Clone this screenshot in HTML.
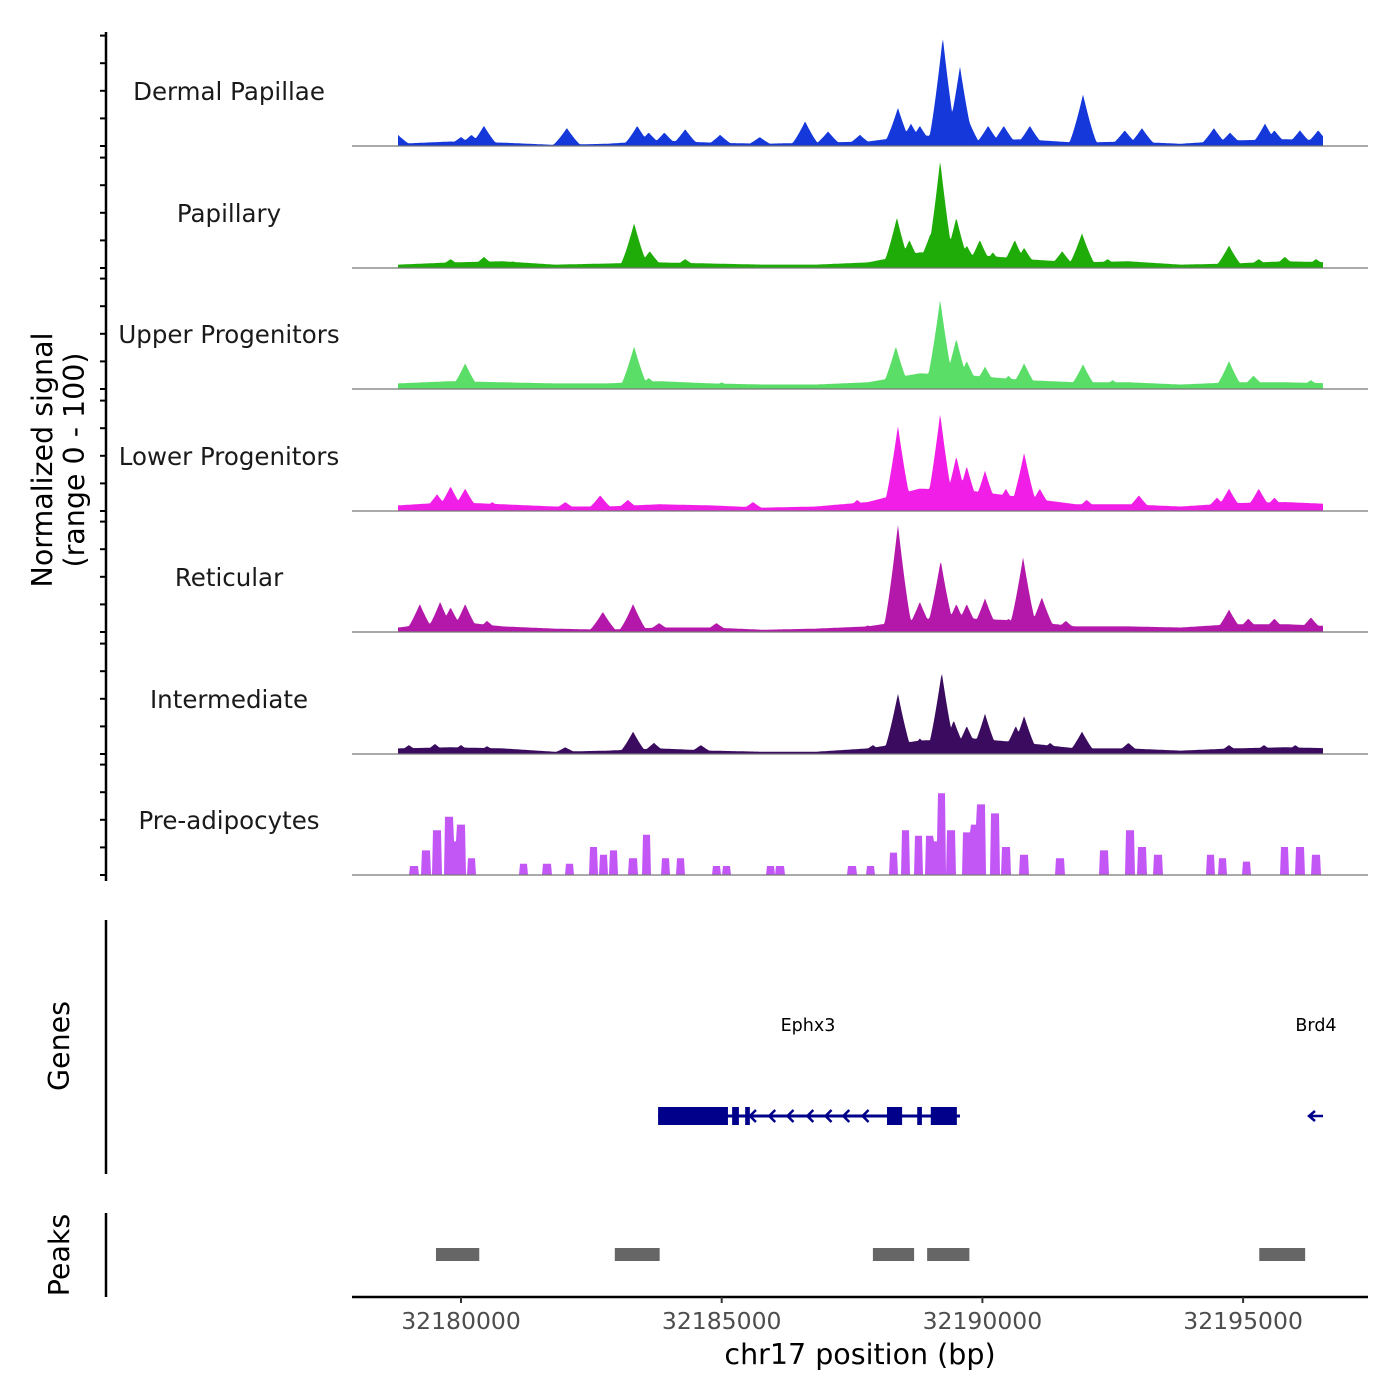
<!DOCTYPE html>
<html><head><meta charset="utf-8"><style>
html,body{margin:0;padding:0;background:#fff;}
svg{display:block;font-family:"DejaVu Sans","Liberation Sans",sans-serif;}
</style></head><body>
<svg id="chart" width="1400" height="1400" viewBox="0 0 1400 1400" xmlns="http://www.w3.org/2000/svg">
<g id="tracks"></g>
<g id="yaxis"></g>
<text transform="translate(52,460) rotate(-90)" text-anchor="middle" font-size="28.5" fill="#000">Normalized signal</text>
<text transform="translate(84,460) rotate(-90)" text-anchor="middle" font-size="28.5" fill="#000">(range 0 - 100)</text>
<line x1="106" y1="920" x2="106" y2="1174" stroke="#000" stroke-width="2.5"/>
<text transform="translate(69,1046) rotate(-90)" text-anchor="middle" font-size="28.5">Genes</text>
<line x1="106" y1="1213" x2="106" y2="1297" stroke="#000" stroke-width="2.5"/>
<text transform="translate(69,1255) rotate(-90)" text-anchor="middle" font-size="28.5">Peaks</text>
<g id="genes"></g>
<g id="peaks"></g>
<g id="xaxis"></g>
<text x="860" y="1364" text-anchor="middle" font-size="28.5">chr17 position (bp)</text>
</svg>
<script>
// ---- data (positions in kb offset from 32,180,000; heights 0-100) ----
const trackNames = ["Dermal Papillae","Papillary","Upper Progenitors","Lower Progenitors","Reticular","Intermediate","Pre-adipocytes"];
const trackColors = ["#1438da","#1fac09","#5ade68","#f01ee6","#b418aa","#3a0b5e","#c257f5"];
// background levels at kb -1.2 .. 16.8 (every 1 kb)
const bgKb = [-1.2,-0.2,0.8,1.8,2.8,3.8,4.8,5.8,6.8,7.8,8.8,9.8,10.8,11.8,12.8,13.8,14.8,15.8,16.8];
const bgDP  = [2,4,3,1,2,5,3,2,3,4,10,5,6,3,4,2,5,6,5];
const bgPap = [3,5,6,3,4,5,4,3,3,5,14,12,8,5,6,3,4,6,5];
const bgUP  = [5,7,6,5,5,7,5,4,4,6,14,12,8,6,6,4,6,6,5];
const bgLP  = [5,8,6,4,4,6,5,3,4,8,20,18,12,6,6,4,7,8,6];
const bgRet = [4,10,5,3,2,4,4,2,3,5,12,12,10,5,5,4,7,7,5];
const bgInt = [5,6,5,2,3,5,3,2,2,5,12,14,10,5,5,3,5,6,5];
const bgPre = [0,0,0,0,0,0,0,0,0,0,0,0,0,0,0,0,0,0,0];
const pkDP_pos = [-1.21,0.0,0.2,0.44,2.03,3.38,3.6,3.9,4.3,4.97,5.73,6.6,7.04,7.65,8.38,8.63,8.8,9.24,9.57,9.7,10.11,10.41,10.91,11.93,12.73,13.06,14.44,14.75,15.42,15.6,16.09,16.44];
const pkDP_val = [10,8,10,18,16,18,12,12,15,10,8,22,13,10,34,20,18,97,71,27,18,18,18,46,14,16,16,12,20,14,14,14];
const pkPap_pos = [-0.2,0.44,1.0,3.32,3.62,4.3,8.36,8.6,9.0,9.19,9.5,9.7,9.95,10.2,10.62,10.8,11.53,11.91,12.4,14.73,15.3,15.8,16.4];
const pkPap_val = [8,10,6,40,15,8,45,25,30,96,45,20,25,14,25,18,15,31,8,20,8,10,8];
const pkUP_pos = [-0.5,0.08,1.2,3.32,3.6,5.0,8.34,8.7,9.19,9.5,9.7,10.05,10.5,10.8,11.93,12.5,14.73,15.2,16.3];
const pkUP_val = [6,23,5,38,10,6,38,12,80,45,25,20,12,23,22,8,25,12,8];
const pkLP_pos = [-0.46,-0.2,0.08,0.6,2.0,2.67,3.2,5.6,7.6,8.38,8.8,9.19,9.5,9.7,10.05,10.45,10.8,11.1,12.0,13.0,14.5,14.73,15.3,15.6];
const pkLP_val = [15,22,20,8,8,14,10,8,10,76,18,87,49,40,36,20,52,20,10,14,12,20,20,12];
const pkRet_pos = [-0.79,-0.4,-0.2,0.08,0.5,2.72,3.3,3.8,4.9,7.8,8.38,8.8,9.2,9.5,9.7,10.05,10.5,10.78,11.14,11.6,14.73,15.1,15.6,16.3];
const pkRet_val = [25,27,22,25,10,18,25,8,8,6,96,27,64,25,25,30,12,67,31,10,20,12,12,13];
const pkInt_pos = [-1.0,-0.5,0.0,0.5,2.0,3.3,3.7,4.6,7.9,8.38,8.8,9.22,9.45,9.7,10.05,10.64,10.8,11.3,11.91,12.8,14.73,15.4,16.0];
const pkInt_val = [8,9,8,7,6,20,10,8,8,54,14,73,30,25,36,25,34,10,20,10,8,8,8];
const pkPre_pos = [-0.9,-0.67,-0.46,-0.23,-0.1,0.0,0.2,1.2,1.65,2.08,2.54,2.73,2.93,3.3,3.56,3.92,4.21,4.9,5.09,5.93,6.12,7.5,7.86,8.3,8.52,8.77,8.98,9.1,9.22,9.4,9.69,9.85,9.97,10.24,10.45,10.8,11.49,12.33,12.83,13.06,13.37,14.38,14.61,15.07,15.8,16.09,16.4];
const pkPre_val = [8,22,40,52,30,45,15,10,10,10,25,18,22,15,36,15,15,8,8,8,8,8,8,20,40,35,35,30,73,40,38,45,63,55,25,18,15,22,40,25,18,18,15,12,25,25,18];
const trackBg = [bgDP,bgPap,bgUP,bgLP,bgRet,bgInt,bgPre];
const trackPkPos = [pkDP_pos,pkPap_pos,pkUP_pos,pkLP_pos,pkRet_pos,pkInt_pos,pkPre_pos];
const trackPkVal = [pkDP_val,pkPap_val,pkUP_val,pkLP_val,pkRet_val,pkInt_val,pkPre_val];
const geneExonStart = [3.78,5.20,5.45,8.17,8.75,9.01];
const geneExonEnd   = [5.12,5.33,5.54,8.46,8.84,9.51];
const geneChevrons  = [5.58,5.95,6.30,6.68,7.03,7.37,7.74];
const peakStart = [-0.48,2.95,7.90,8.94,15.31];
const peakEnd   = [0.35,3.81,8.69,9.75,16.19];
const xTicks = [32180000,32185000,32190000,32195000];

// ---- scales ----
const NS = "http://www.w3.org/2000/svg";
function xOfKb(kb){ return 461 + kb*52.14; }
function xOfBp(bp){ return 461 + (bp-32180000)/1000*52.14; }
const baselines = [146,268,389,511,632,754,875];
function yOf(v, base){ return base - v*1.12; }
function mk(tag, attrs, parent){ const e=document.createElementNS(NS,tag); for(const k in attrs) e.setAttribute(k,attrs[k]); parent.appendChild(e); return e; }
function bgAt(arr, kb){
  if(kb<=bgKb[0]) return arr[0];
  for(let i=0;i<bgKb.length-1;i++){ if(kb<=bgKb[i+1]){ const t=(kb-bgKb[i])/(bgKb[i+1]-bgKb[i]); return arr[i]*(1-t)+arr[i+1]*t; } }
  return arr[arr.length-1];
}
const tracksG = document.getElementById('tracks');
const yG = document.getElementById('yaxis');
const x0 = 398, x1 = 1323;
for(let t=0;t<7;t++){
  const base = baselines[t];
  const isPre = (t===6);
  const hw = isPre ? 0.08 : 0.3;
  let d = "M"+x0+","+base;
  for(let px=x0; px<=x1; px++){
    const kb=(px-461)/52.14;
    let v = bgAt(trackBg[t], kb);
    let m = 0;
    for(let i=0;i<trackPkPos[t].length;i++){
      const dd=Math.abs(kb-trackPkPos[t][i]);
      if(dd<hw){ const s = isPre ? 1 : Math.pow(1-dd/hw,1.3); m=Math.max(m, trackPkVal[t][i]*s); }
    }
    v = Math.max(v, m);
    d += " L"+px+","+yOf(v,base).toFixed(1);
  }
  d += " L"+x1+","+base+" Z";
  const p = mk('path',{d:d,fill:trackColors[t]},tracksG);
  
  
  const bl = mk('line',{x1:352,x2:1368,y1:base,y2:base,stroke:'#777','stroke-width':1.2},tracksG);
  
  
  const lab = mk('text',{x:229,y:base-46,'text-anchor':'middle','font-size':24.5,fill:'#1a1a1a'},tracksG);
  lab.textContent = trackNames[t];
  
  
  for(let k=0;k<=4;k++){
    const ty = base - k*27.6;
    const tk = mk('line',{x1:100,x2:106,y1:ty,y2:ty,stroke:'#000','stroke-width':2},yG);
    
    
  }
}
const yl = mk('line',{x1:106,x2:106,y1:32,y2:881,stroke:'#000','stroke-width':2.5},yG);



// genes
const gG = document.getElementById('genes');
const gl = mk('line',{x1:xOfKb(geneExonStart[0]),x2:xOfKb(9.57),y1:1116,y2:1116,stroke:'#00008b','stroke-width':3},gG);


for(let i=0;i<geneExonStart.length;i++){
  const r = mk('rect',{x:xOfKb(geneExonStart[i]),y:1107,width:xOfKb(geneExonEnd[i])-xOfKb(geneExonStart[i]),height:18,fill:'#00008b'},gG);
  
  
}
for(let i=0;i<geneChevrons.length;i++){
  const cx = xOfKb(geneChevrons[i]);
  const c = mk('path',{d:`M${cx+4},${1110} L${cx-2},${1116} L${cx+4},${1122}`,fill:'none',stroke:'#00008b','stroke-width':2.5},gG);
  
  
}
const ba = mk('path',{d:"M1323,1116 L1309,1116 M1315,1111 L1309,1116 L1315,1121",fill:'none',stroke:'#00008b','stroke-width':2.5},gG);


const t1 = mk('text',{x:808,y:1031,'text-anchor':'middle','font-size':17.5},gG); t1.textContent='Ephx3';


const t2 = mk('text',{x:1316,y:1031,'text-anchor':'middle','font-size':17.5},gG); t2.textContent='Brd4';



// peaks
const pG = document.getElementById('peaks');
for(let i=0;i<peakStart.length;i++){
  const r = mk('rect',{x:xOfKb(peakStart[i]),y:1248,width:xOfKb(peakEnd[i])-xOfKb(peakStart[i]),height:13,fill:'#666'},pG);
  
  
}

// x axis
const xG = document.getElementById('xaxis');
const xl = mk('line',{x1:352,x2:1368,y1:1297,y2:1297,stroke:'#000','stroke-width':2.5},xG);


for(const v of xTicks){
  const x = xOfBp(v);
  const tk = mk('line',{x1:x,x2:x,y1:1297,y2:1303,stroke:'#333','stroke-width':2},xG);
  
  
  const tl = mk('text',{x:x,y:1329,'text-anchor':'middle','font-size':23.5,fill:'#4d4d4d'},xG);
  tl.textContent = String(v);
  
  
}
</script>
</body></html>
